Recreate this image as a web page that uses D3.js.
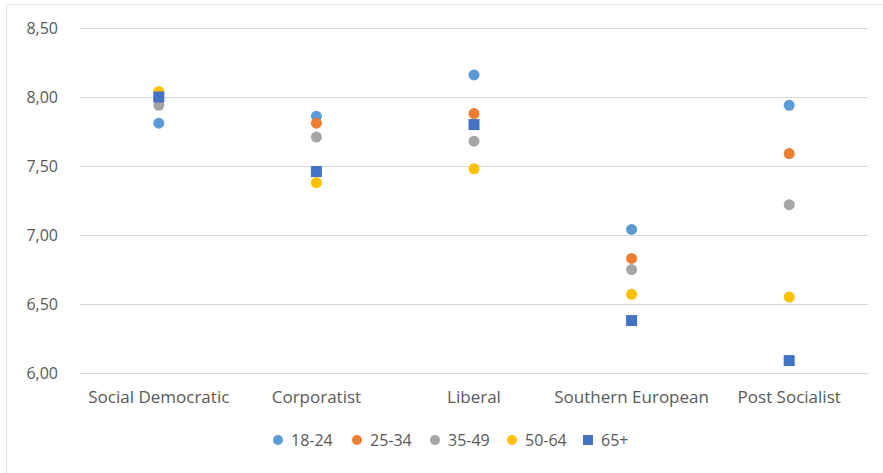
<!DOCTYPE html>
<html>
<head>
<meta charset="utf-8">
<script src="https://cdn.jsdelivr.net/npm/d3@7"></script>
<style>
  body { margin: 0; background: #fff; }
  svg { display: block; font-family: "Open Sans", "Noto Sans", sans-serif; }
</style>
</head>
<body>
<div id="chart"></div>
<script>
// categories and series
var categories = ["Social Democratic", "Corporatist", "Liberal", "Southern European", "Post Socialist"];
var seriesNames = ["18-24", "25-34", "35-49", "50-64", "65+"];
var seriesColors = ["#5B9BD5", "#ED7D31", "#A5A5A5", "#FFC000", "#4472C4"];
var yTicks = [6.0, 6.5, 7.0, 7.5, 8.0, 8.5];

var s18_24 = [7.81, 7.86, 8.16, 7.04, 7.94];
var s25_34 = [7.98, 7.81, 7.88, 6.83, 7.59];
var s35_49 = [7.94, 7.71, 7.68, 6.75, 7.22];
var s50_64 = [8.04, 7.38, 7.48, 6.57, 6.55];
var s65plus = [8.00, 7.46, 7.80, 6.38, 6.09];

var seriesValues = [s18_24, s25_34, s35_49, s50_64, s65plus];

var width = 883, height = 473;
var margin = { left: 80, right: 15, top: 28, bottom: 100 };
var fontFam = "\"Open Sans\", \"Noto Sans\", sans-serif";

var svg = d3.select("#chart").append("svg")
  .attr("width", width)
  .attr("height", height);

// faint frame (top and left visible in reference)
svg.append("rect")
  .attr("x", 6.5).attr("y", 4.5)
  .attr("width", width + 10).attr("height", height + 10)
  .attr("fill", "none")
  .attr("stroke", "#e3e3e3");

var x = d3.scaleBand()
  .domain(categories)
  .range([margin.left, width - margin.right]);

var y = d3.scaleLinear()
  .domain([6, 8.5])
  .range([height - margin.bottom, margin.top]);

// gridlines
svg.append("g")
  .selectAll("line")
  .data(yTicks)
  .join("line")
  .attr("x1", margin.left)
  .attr("x2", width - margin.right)
  .attr("y1", d => Math.round(y(d)) + 0.5)
  .attr("y2", d => Math.round(y(d)) + 0.5)
  .attr("stroke", "#d9d9d9")
  .attr("stroke-width", 1);

// y axis labels
var yAxis = d3.axisLeft(y)
  .tickValues(yTicks)
  .tickSize(0)
  .tickPadding(0)
  .tickFormat(d => d3.format(".2f")(d).replace(".", ","));

svg.append("g")
  .attr("transform", "translate(" + 58 + ",0)")
  .call(yAxis)
  .call(g => g.select(".domain").remove())
  .call(g => g.selectAll("text")
    .attr("fill", "#595959")
    .style("font-size", "16px")
    .style("font-family", fontFam));

// x axis labels
var xAxis = d3.axisBottom(x).tickSize(0).tickPadding(0);
svg.append("g")
  .attr("transform", "translate(0," + (height - margin.bottom + 18) + ")")
  .call(xAxis)
  .call(g => g.select(".domain").remove())
  .call(g => g.selectAll("text")
    .attr("fill", "#595959")
    .style("font-size", "17px")
    .style("font-family", fontFam));

// points
var pts = [];
seriesValues.forEach(function (vals, si) {
  vals.forEach(function (v, ci) {
    pts.push({ series: si, cat: categories[ci], value: v });
  });
});

var marks = svg.append("g");
pts.forEach(function (p) {
  var cx = x(p.cat) + x.bandwidth() / 2;
  var cy = y(p.value);
  if (p.series === 4) {
    marks.append("rect")
      .attr("x", cx - 5.5).attr("y", cy - 5.5)
      .attr("width", 11).attr("height", 11)
      .attr("fill", seriesColors[p.series]);
  } else {
    marks.append("circle")
      .attr("cx", cx).attr("cy", cy)
      .attr("r", 5.5)
      .attr("fill", seriesColors[p.series]);
  }
});

// legend
var legendX = [278, 357, 435, 512, 588];
var legend = svg.append("g").attr("transform", "translate(0,440)");
seriesNames.forEach(function (name, i) {
  var g = legend.append("g").attr("transform", "translate(" + legendX[i] + ",0)");
  if (i === 4) {
    g.append("rect").attr("x", -5).attr("y", -5).attr("width", 10).attr("height", 10)
      .attr("fill", seriesColors[i]);
  } else {
    g.append("circle").attr("r", 5).attr("fill", seriesColors[i]);
  }
  g.append("text")
    .attr("x", 13)
    .attr("dy", "0.35em")
    .attr("fill", "#595959")
    .style("font-size", "16px")
    .text(name);
});
</script>
</body>
</html>
